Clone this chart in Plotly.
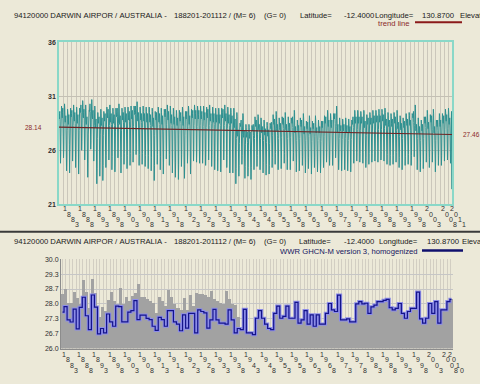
import plotly.graph_objects as go

# ---------------- DATA ----------------
first_year = 1882
# monthly temperatures (raw), one row per year 1882..2011, Jan..Dec
monthly_temps = [
[29.1,28.9,29.4,29.6,28.7,26.9,24.8,25.9,28.2,29.8,30.1,29.8],
[29.3,29.0,29.5,29.9,29.0,27.2,25.3,26.1,28.4,29.9,30.3,29.9],
[28.8,28.6,29.0,29.2,28.2,26.3,24.1,25.3,27.8,29.4,29.8,29.5],
[29.0,28.4,28.9,29.3,28.4,26.5,23.9,25.1,27.6,29.5,29.9,29.3],
[29.2,29.1,29.4,29.7,28.9,27.1,25.0,26.0,28.3,29.9,30.2,29.7],
[28.9,28.7,29.3,29.5,28.5,26.6,24.4,25.6,28.0,29.7,30.0,29.6],
[28.7,28.5,29.0,29.3,28.3,26.2,23.8,25.2,27.8,29.5,29.9,29.8],
[29.6,29.5,29.9,30.2,29.5,27.9,26.0,26.8,28.9,30.3,30.6,30.2],
[29.1,29.0,29.5,29.8,28.8,27.0,25.1,25.9,28.3,29.8,30.2,29.7],
[28.6,28.4,28.8,29.1,28.0,25.9,23.5,24.8,27.5,29.3,29.7,29.4],
[29.7,29.6,30.0,30.3,29.6,27.8,26.1,26.9,28.9,30.3,30.7,30.1],
[29.2,28.9,29.4,29.7,28.8,26.9,25.0,26.0,28.3,29.8,30.1,29.8],
[28.3,28.1,28.6,28.9,27.6,25.4,22.9,24.3,27.1,29.0,29.5,29.1],
[28.6,28.5,28.9,29.1,28.1,26.0,23.6,24.9,27.5,29.3,29.8,29.4],
[28.5,28.3,28.8,29.0,27.9,25.7,23.2,24.6,27.4,29.2,29.6,29.3],
[28.9,28.7,29.1,29.4,28.4,26.5,24.4,25.5,27.9,29.6,30.0,29.6],
[29.2,29.0,29.5,29.8,28.9,27.0,25.1,26.0,28.3,29.9,30.2,29.7],
[28.8,28.6,29.1,29.4,28.4,26.4,24.2,25.4,27.9,29.5,29.9,29.6],
[28.7,28.5,29.0,29.3,28.3,26.2,24.0,25.2,27.7,29.5,29.9,29.5],
[29.3,29.1,29.6,29.9,29.1,27.3,25.3,26.2,28.5,30.0,30.3,29.9],
[28.8,28.4,28.9,29.2,28.2,26.3,23.9,25.3,27.8,29.4,29.9,29.6],
[29.0,28.8,29.2,29.5,28.6,26.7,24.7,25.7,28.1,29.7,30.0,29.7],
[28.9,28.6,29.1,29.4,28.5,26.5,24.3,25.5,27.9,29.6,30.0,29.5],
[29.0,28.8,29.3,29.6,28.7,26.8,24.6,25.7,28.1,29.7,30.1,29.7],
[29.1,28.9,29.4,29.7,28.8,26.9,24.9,25.9,28.2,29.8,30.1,29.8],
[29.5,29.3,29.8,30.1,29.3,27.6,25.6,26.5,28.7,30.1,30.5,30.0],
[29.0,28.7,29.2,29.5,28.6,26.7,24.6,25.6,28.0,29.7,30.0,29.7],
[28.9,28.8,29.3,29.4,28.6,26.6,24.7,25.7,28.1,29.6,30.1,29.6],
[28.9,28.7,29.1,29.4,28.5,26.5,24.5,25.5,28.0,29.6,30.0,29.6],
[28.9,28.6,29.1,29.4,28.4,26.5,24.3,25.5,27.9,29.6,30.0,29.5],
[28.8,28.6,29.0,29.3,28.3,26.3,24.1,25.3,27.8,29.5,29.9,29.6],
[28.4,28.2,28.7,29.0,27.9,25.7,23.2,24.6,27.4,29.2,29.6,29.3],
[29.0,28.8,29.2,29.5,28.6,26.6,24.7,25.6,28.1,29.7,30.0,29.7],
[28.8,28.6,29.1,29.4,28.4,26.4,24.2,25.4,27.9,29.6,29.9,29.5],
[28.7,28.4,28.9,29.2,28.2,26.1,23.8,25.1,27.7,29.4,29.8,29.5],
[29.2,29.1,29.5,29.8,29.0,27.1,25.2,26.1,28.4,29.9,30.2,29.8],
[29.0,28.8,29.2,29.6,28.6,26.7,24.6,25.6,28.0,29.7,30.1,29.7],
[28.7,28.5,29.0,29.3,28.3,26.3,23.9,25.2,27.8,29.5,29.9,29.6],
[28.6,28.4,28.8,29.1,28.0,25.9,23.5,24.9,27.6,29.3,29.7,29.4],
[28.5,28.3,28.8,29.0,27.9,25.8,23.3,24.7,27.5,29.3,29.7,29.3],
[28.9,28.7,29.2,29.5,28.5,26.6,24.5,25.6,28.0,29.6,30.0,29.7],
[28.5,28.3,28.7,29.1,27.9,25.8,23.4,24.7,27.4,29.3,29.6,29.4],
[29.0,28.9,29.3,29.6,28.7,26.8,24.8,25.8,28.2,29.7,30.1,29.7],
[28.7,28.4,28.9,29.2,28.2,26.1,23.8,25.1,27.7,29.4,29.8,29.5],
[29.1,29.0,29.4,29.7,28.8,27.0,25.0,25.9,28.3,29.8,30.2,29.8],
[29.1,28.9,29.4,29.7,28.8,26.9,24.9,25.9,28.2,29.8,30.1,29.8],
[29.2,28.9,29.3,29.7,28.8,26.9,24.8,25.9,28.3,29.8,30.1,29.7],
[29.0,28.9,29.3,29.6,28.7,26.8,24.8,25.8,28.2,29.7,30.1,29.7],
[29.0,28.8,29.2,29.5,28.6,26.7,24.6,25.6,28.1,29.7,30.0,29.7],
[29.2,29.0,29.5,29.8,28.9,27.1,25.1,26.0,28.3,29.9,30.2,29.7],
[28.9,28.7,29.1,29.4,28.5,26.5,24.5,25.5,28.0,29.6,30.0,29.6],
[28.8,28.6,29.1,29.4,28.4,26.4,24.2,25.4,27.9,29.6,29.9,29.5],
[28.8,28.6,29.0,29.3,28.3,26.3,24.1,25.3,27.8,29.5,29.9,29.6],
[28.7,28.5,29.0,29.3,28.3,26.2,24.0,25.2,27.8,29.5,29.9,29.5],
[29.2,29.0,29.5,29.8,28.9,27.0,25.1,26.1,28.3,29.9,30.2,29.7],
[28.9,28.7,29.2,29.4,28.5,26.5,24.4,25.5,28.0,29.6,30.0,29.7],
[28.7,28.5,29.0,29.3,28.3,26.3,23.9,25.2,27.8,29.5,29.9,29.5],
[28.7,28.5,28.9,29.2,28.2,26.2,23.9,25.2,27.7,29.4,29.9,29.5],
[28.3,28.1,28.6,28.9,27.6,25.4,22.9,24.3,27.1,29.0,29.5,29.1],
[27.5,27.3,27.6,27.9,26.9,25.1,23.6,24.6,26.6,28.1,28.5,28.3],
[28.4,28.2,28.6,28.8,27.8,26.0,24.7,25.5,27.5,29.0,29.4,29.2],
[27.4,27.2,27.4,27.8,26.8,24.9,23.4,24.5,26.5,28.0,28.4,28.1],
[27.3,27.2,27.5,27.7,26.7,25.0,23.6,24.4,26.4,28.0,28.4,28.1],
[27.3,27.1,27.4,27.7,26.7,24.9,23.3,24.4,26.4,27.9,28.3,28.0],
[28.0,27.8,28.2,28.4,27.4,25.6,24.2,25.1,27.1,28.6,29.1,28.8],
[28.4,28.2,28.5,28.8,27.8,26.0,24.5,25.5,27.5,29.0,29.3,29.1],
[28.0,27.9,28.1,28.4,27.5,25.6,24.2,25.1,27.1,28.7,29.0,28.7],
[27.8,27.6,27.9,28.2,27.2,25.4,23.9,24.9,26.9,28.4,28.8,28.5],
[27.6,27.4,27.7,28.0,27.0,25.1,23.7,24.7,26.7,28.2,28.6,28.3],
[27.5,27.3,27.6,27.9,26.9,25.1,23.8,24.6,26.6,28.1,28.5,28.2],
[28.3,28.0,28.4,28.6,27.7,25.8,24.4,25.3,27.4,28.8,29.3,28.9],
[28.6,28.4,28.7,28.9,28.0,26.2,24.7,25.7,27.7,29.1,29.6,29.3],
[28.0,27.8,28.2,28.4,27.4,25.7,24.2,25.1,27.1,28.6,29.0,28.7],
[28.1,27.9,28.2,28.5,27.5,25.7,24.3,25.2,27.2,28.7,29.1,28.8],
[28.5,28.4,28.7,29.0,28.0,26.1,24.8,25.7,27.7,29.2,29.5,29.2],
[28.0,27.9,28.1,28.4,27.4,25.6,24.2,25.2,27.1,28.6,29.1,28.7],
[28.1,27.8,28.1,28.5,27.4,25.6,24.2,25.1,27.2,28.6,29.0,28.8],
[28.7,28.5,28.8,29.1,28.1,26.4,25.0,25.8,27.8,29.3,29.7,29.5],
[27.8,27.6,27.9,28.2,27.2,25.4,24.0,24.9,26.9,28.4,28.8,28.5],
[28.0,27.8,28.1,28.3,27.4,25.5,24.1,25.1,27.1,28.5,29.0,28.6],
[28.4,28.2,28.4,28.8,27.8,26.0,24.6,25.4,27.5,29.0,29.4,29.0],
[27.8,27.5,27.9,28.2,27.2,25.4,23.9,24.9,26.9,28.4,28.7,28.5],
[28.2,28.0,28.3,28.6,27.6,25.8,24.3,25.3,27.3,28.8,29.2,28.9],
[27.7,27.5,27.8,28.1,27.1,25.3,23.8,24.8,26.8,28.3,28.7,28.3],
[28.2,28.0,28.3,28.5,27.6,25.8,24.4,25.3,27.3,28.8,29.2,28.8],
[27.8,27.6,27.9,28.1,27.2,25.3,24.0,24.9,26.9,28.4,28.8,28.4],
[27.7,27.6,27.9,28.2,27.1,25.4,23.9,24.8,26.8,28.4,28.7,28.5],
[28.2,28.1,28.3,28.7,27.6,25.9,24.4,25.4,27.3,28.9,29.2,29.0],
[28.7,28.5,28.8,29.1,28.1,26.3,24.9,25.8,27.8,29.3,29.7,29.4],
[28.4,28.2,28.5,28.8,27.8,26.0,24.6,25.5,27.5,29.0,29.4,29.1],
[28.3,28.1,28.4,28.8,27.7,25.9,24.6,25.4,27.4,28.9,29.4,29.0],
[29.0,28.9,29.2,29.4,28.5,26.7,25.3,26.1,28.2,29.6,30.1,29.7],
[28.0,27.7,28.1,28.4,27.4,25.5,24.2,25.0,27.1,28.5,29.0,28.6],
[27.9,27.8,28.0,28.3,27.3,25.6,24.1,25.1,27.0,28.6,28.9,28.7],
[28.0,27.8,28.1,28.4,27.4,25.6,24.2,25.1,27.1,28.6,29.0,28.7],
[27.9,27.7,27.9,28.3,27.3,25.4,24.1,25.0,26.9,28.5,28.9,28.5],
[27.8,27.7,28.0,28.2,27.2,25.5,24.0,24.9,27.0,28.4,28.8,28.6],
[28.7,28.4,28.8,29.1,28.1,26.3,24.8,25.8,27.8,29.2,29.7,29.4],
[28.8,28.5,28.9,29.1,28.2,26.4,25.0,25.8,27.9,29.4,29.7,29.4],
[28.6,28.5,28.7,29.1,28.0,26.3,24.9,25.7,27.8,29.3,29.6,29.4],
[28.7,28.5,28.8,29.1,28.1,26.3,24.8,25.8,27.8,29.3,29.7,29.4],
[28.2,28.1,28.3,28.7,27.6,25.9,24.4,25.3,27.4,28.8,29.3,28.9],
[28.5,28.4,28.6,29.0,28.0,26.1,24.7,25.7,27.6,29.1,29.5,29.3],
[28.6,28.4,28.7,29.0,28.0,26.2,24.9,25.7,27.7,29.2,29.7,29.3],
[28.8,28.5,28.9,29.2,28.2,26.3,25.0,25.9,27.8,29.4,29.7,29.5],
[28.7,28.6,28.8,29.2,28.1,26.4,24.9,25.9,27.9,29.3,29.8,29.4],
[28.8,28.6,28.9,29.2,28.2,26.4,25.1,25.9,27.9,29.4,29.8,29.5],
[28.9,28.7,28.9,29.3,28.3,26.5,25.0,26.0,28.0,29.4,29.9,29.5],
[28.5,28.3,28.6,28.9,27.9,26.1,24.7,25.6,27.6,29.1,29.5,29.2],
[28.4,28.2,28.5,28.8,27.8,26.0,24.6,25.5,27.5,29.0,29.4,29.1],
[28.5,28.2,28.6,28.9,27.8,26.1,24.7,25.5,27.6,29.0,29.5,29.2],
[28.7,28.5,28.8,29.1,28.1,26.3,24.9,25.8,27.8,29.3,29.7,29.4],
[28.3,28.0,28.4,28.6,27.7,25.8,24.4,25.3,27.3,28.9,29.2,29.0],
[28.0,27.9,28.1,28.5,27.4,25.7,24.2,25.1,27.1,28.7,29.0,28.7],
[28.3,28.1,28.5,28.7,27.7,25.9,24.6,25.4,27.4,28.9,29.4,29.0],
[28.5,28.3,28.5,28.9,27.9,26.0,24.7,25.6,27.6,29.0,29.5,29.2],
[28.4,28.3,28.6,28.8,27.8,26.1,24.6,25.5,27.5,29.1,29.4,29.2],
[29.2,29.0,29.3,29.6,28.6,26.8,25.4,26.3,28.3,29.8,30.2,29.9],
[28.0,27.8,28.1,28.4,27.4,25.6,24.2,25.1,27.1,28.6,29.0,28.7],
[27.8,27.6,27.9,28.2,27.2,25.4,24.0,24.9,26.9,28.4,28.8,28.5],
[28.0,27.8,28.2,28.4,27.4,25.6,24.3,25.1,27.1,28.6,29.1,28.7],
[28.7,28.5,28.8,29.1,28.1,26.3,24.9,25.8,27.8,29.3,29.7,29.4],
[28.3,28.0,28.4,28.6,27.7,25.9,24.4,25.3,27.4,28.8,29.3,28.9],
[28.8,28.6,28.9,29.2,28.2,26.4,24.9,25.9,27.9,29.4,29.8,29.4],
[27.8,27.6,27.9,28.2,27.2,25.4,24.0,24.9,26.9,28.4,28.8,28.5],
[28.4,28.2,28.5,28.8,27.8,26.0,24.6,25.5,27.5,29.0,29.4,29.1],
[28.4,28.2,28.5,28.8,27.8,26.0,24.6,25.5,27.5,29.0,29.4,29.1],
[28.8,28.5,28.9,29.2,28.2,26.3,25.0,25.9,27.9,29.4,29.8,29.5],
[28.9,28.7,28.9,29.3,28.3,26.5,25.1,26.0,28.0,29.5,29.9,29.5],
[28.6,28.4,28.7,29.0,28.0,26.2,24.8,25.7,27.7,29.2,29.6,22.4],
]
trend_start = 28.14
trend_end = 27.46

annual_years = list(range(1882, 2011))
raw_annual = [
28.43,28.65,28.05,28.02,28.54,28.24,28.00,29.08,28.51,27.80,
29.12,28.49,27.41,27.85,27.66,28.17,28.54,28.10,27.98,28.68,
27.98,28.32,28.14,28.36,28.46,28.90,28.29,28.29,28.20,28.14,
28.05,27.60,28.30,28.10,27.90,28.60,28.30,28.00,27.80,27.70,
28.24,27.70,28.40,27.90,28.50,28.45,28.45,28.40,28.30,28.55,
28.20,28.10,28.05,28.00,28.55,28.20,28.00,27.95,27.40,26.85,
27.76,26.70,26.70,26.63,27.36,27.70,27.36,27.10,26.90,26.85,
27.58,27.90,27.36,27.44,27.90,27.36,27.36,28.07,27.14,27.29,
27.70,27.10,27.51,27.00,27.51,27.10,27.10,27.58,28.02,27.73,
27.66,28.39,27.29,27.29,27.33,27.20,27.20,28.00,28.10,28.00,
28.03,27.58,27.87,27.95,28.10,28.10,28.16,28.20,27.83,27.73,
27.80,28.02,27.58,27.36,27.66,27.80,27.80,28.53,27.33,27.14,
27.36,28.02,27.58,28.10,27.14,27.73,27.73,28.10,28.20,
]
homog_annual = [
27.63,27.88,27.29,27.19,27.77,26.88,27.85,28.30,27.47,26.85,
28.40,27.86,26.66,26.90,26.70,27.55,27.20,27.00,27.90,27.88,
27.20,27.20,27.63,27.70,28.15,27.30,27.50,27.50,27.35,27.30,
27.00,26.82,27.40,27.30,27.00,27.70,27.70,27.20,27.10,26.80,
27.51,26.92,27.58,27.58,26.70,27.73,27.66,27.60,26.92,27.29,
27.76,27.29,27.14,27.14,27.10,27.73,27.29,26.70,26.90,26.85,
27.76,26.70,26.70,26.63,27.36,27.70,27.36,27.10,26.90,26.85,
27.58,27.90,27.36,27.44,27.90,27.36,27.36,28.07,27.14,27.29,
27.70,27.10,27.51,27.00,27.51,27.10,27.10,27.58,28.02,27.73,
27.66,28.39,27.29,27.29,27.33,27.20,27.20,28.00,28.10,28.00,
28.03,27.58,27.87,27.95,28.10,28.10,28.16,28.20,27.83,27.73,
27.80,28.02,27.58,27.36,27.66,27.80,27.80,28.53,27.33,27.14,
27.36,28.02,27.58,28.10,27.14,27.73,27.73,28.10,28.20,
]

top_ytick_vals = [21, 26, 31, 36]
bottom_ytick_vals = [26.0, 26 + 2/3, 27 + 1/3, 28.0, 28 + 2/3, 29 + 1/3, 30.0]
bottom_ytick_text = ["26.0", "26.7", "27.3", "28.0", "28.7", "29.3", "30.0"]
top_xlabel_years = list(range(1883, 2009, 5)) + [2011]
bottom_xlabel_years = list(range(1883, 2009, 5)) + [2010]

title_parts = ["94120000 DARWIN AIRPOR / AUSTRALIA -", "188201-201112 / (M= 6)", "(G= 0)",
               "Latitude=", "-12.4000", "Longitude=", "130.8700", "Elevation"]
trend_label = "trend line"
homog_label = "WWR GHCN-M version 3, homogenized"

# ---------------- FIGURE ----------------
W, H = 480, 384
def px(x):
    return x / W
def py(y):
    return 1 - y / H

BG = "#ECE9D8"
FONT = "Liberation Sans"

month_x = []
month_y = []
for i, row in enumerate(monthly_temps):
    for m, v in enumerate(row):
        month_x.append(first_year + i + m / 12)
        month_y.append(v)

fig = go.Figure()
fig.add_trace(go.Scatter(x=month_x, y=month_y, mode="lines",
                         line=dict(color="#2e9090", width=1), xaxis="x", yaxis="y",
                         hoverinfo="skip"))
fig.add_trace(go.Scatter(x=[first_year, first_year + len(monthly_temps)],
                         y=[trend_start, trend_end], mode="lines",
                         line=dict(color="#6e2424", width=1.2), xaxis="x", yaxis="y"))

fig.add_trace(go.Bar(x=annual_years, y=raw_annual, marker=dict(color="#a2a2a2", line=dict(width=0)),
                     xaxis="x2", yaxis="y2"))
fig.add_trace(go.Scatter(x=annual_years, y=homog_annual, mode="lines", line_shape="hvh",
                         line=dict(color="#8c8ce8", width=3.2), xaxis="x2", yaxis="y2"))
fig.add_trace(go.Scatter(x=annual_years, y=homog_annual, mode="lines", line_shape="hvh",
                         line=dict(color="#14148a", width=1.2), xaxis="x2", yaxis="y2"))

annotations = []
nb = lambda s: s.replace(" ", "\u00a0")
top_title_x = [12, 172, 262, 298, 342, 373, 420, 458]
bottom_title_x = [12, 172, 262, 297, 342, 377, 425, 460]
for xs, ycen in ((top_title_x, 11.5), (bottom_title_x, 242)):
    for part, xp in zip(title_parts, xs):
        annotations.append(dict(x=px(xp), y=py(ycen), xref="paper", yref="paper", text=nb(part),
                                showarrow=False, xanchor="left", yanchor="middle",
                                font=dict(family=FONT, size=7.7, color="#202020")))
annotations.append(dict(x=px(376), y=py(19.5), xref="paper", yref="paper", text=trend_label,
                        showarrow=False, xanchor="left", yanchor="middle",
                        font=dict(family=FONT, size=7.7, color="#8b2a2a")))
annotations.append(dict(x=px(278), y=py(252), xref="paper", yref="paper", text=homog_label,
                        showarrow=False, xanchor="left", yanchor="middle",
                        font=dict(family=FONT, size=7.7, color="#14145e")))
annotations.append(dict(x=px(33), y=trend_start, xref="paper", yref="y", text=f"{trend_start:.2f}",
                        showarrow=False, xanchor="center", yanchor="middle",
                        font=dict(family=FONT, size=6.5, color="#8b2a2a")))
annotations.append(dict(x=px(471), y=trend_end, xref="paper", yref="y", text=f"{trend_end:.2f}",
                        showarrow=False, xanchor="center", yanchor="middle",
                        font=dict(family=FONT, size=6.5, color="#8b2a2a")))

def diag_labels(years, xref, yref, base_dx, base_dy, step_dx, step_dy):
    out = []
    for yr in years:
        for k, ch in enumerate(str(yr)):
            out.append(dict(x=yr, xref=xref, y=0, yref=yref, text=ch, showarrow=False,
                            xanchor="center", yanchor="middle",
                            xshift=base_dx + step_dx * k, yshift=-(base_dy + step_dy * k),
                            font=dict(family=FONT, size=7, color="#303030")))
    return out

annotations += diag_labels(top_xlabel_years, "x", "y domain", 2.6, 4.5, 4.0, 5.3)
annotations += diag_labels(bottom_xlabel_years, "x2", "y2 domain", -1.5, 5.7, 4.0, 5.4)

shapes = [
    dict(type="line", xref="paper", yref="paper", x0=0, x1=1, y0=py(232), y1=py(232),
         line=dict(color="#3a3a3a", width=2)),
    dict(type="line", xref="paper", yref="paper", x0=px(415), x1=px(462), y0=py(18.5), y1=py(18.5),
         line=dict(color="#8b1a1a", width=2)),
    dict(type="line", xref="paper", yref="paper", x0=px(422), x1=px(463), y0=py(251), y1=py(251),
         line=dict(color="#10106e", width=2.5)),
]

fig.update_layout(
    width=W, height=H, margin=dict(l=0, r=0, t=0, b=0),
    paper_bgcolor=BG, plot_bgcolor=BG, showlegend=False, bargap=0,
    annotations=annotations, shapes=shapes,
    xaxis=dict(domain=[px(59), px(452)], range=[first_year, first_year + len(monthly_temps)],
               anchor="y", showticklabels=False, ticks="", showgrid=True, gridcolor="#cbc7bb",
               gridwidth=1, tick0=first_year, dtick=17 / 12, zeroline=False,
               showline=True, mirror=True, linecolor="#8ad8c8", linewidth=1.5),
    yaxis=dict(domain=[py(204), py(39)], range=[21, 36], anchor="x", tickvals=top_ytick_vals,
               showgrid=True, gridcolor="#c4c0b4", zeroline=False, ticks="",
               showline=True, mirror=True, linecolor="#8ad8c8", linewidth=1.5,
               tickfont=dict(family=FONT, size=7, color="#303030", weight="bold")),
    xaxis2=dict(domain=[px(61), px(453)], range=[annual_years[0] - 0.5, annual_years[-1] + 0.5],
                anchor="y2", showticklabels=False, ticks="", showgrid=True, gridcolor="#d2cec2",
                tick0=annual_years[0], dtick=1.12, zeroline=False,
                showline=True, linecolor="#8c8c8c", linewidth=1),
    yaxis2=dict(domain=[py(351), py(260)], range=[26, 30], anchor="x2",
                tickvals=bottom_ytick_vals, ticktext=bottom_ytick_text,
                showgrid=True, gridcolor="#c6c6c6", zeroline=False, ticks="",
                showline=True, linecolor="#8c8c8c", linewidth=1,
                tickfont=dict(family=FONT, size=7, color="#303030")),
)

fig.write_html("out.html", config={"displayModeBar": False},
               post_script="document.body.style.margin='0';document.body.style.padding='0';"
                           "document.body.style.overflow='hidden';")
